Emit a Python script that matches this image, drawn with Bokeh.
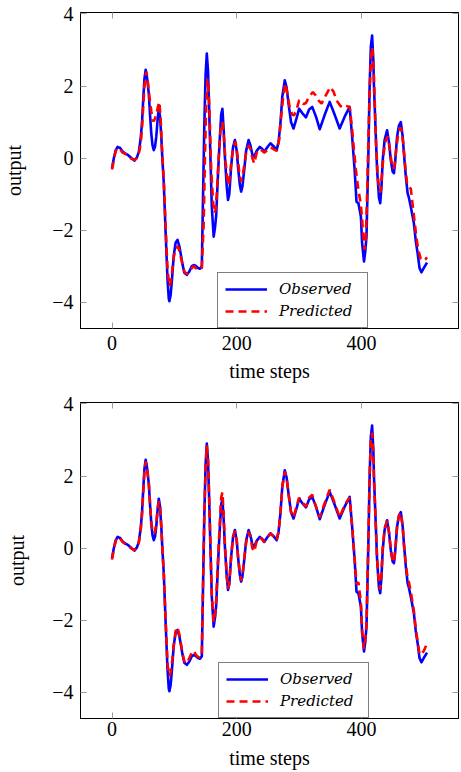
from bokeh.plotting import figure
from bokeh.layouts import column
from bokeh.models import Legend, LegendItem, LinearAxis, FixedTicker, CustomJSTickFormatter, Range1d
from bokeh.embed import file_html
from bokeh.resources import INLINE

x_ticks = [0, 200, 400]
y_ticks = [-4, -2, 0, 2, 4]
series_names = ["Observed", "Predicted"]
x_label = "time steps"
y_label = "output"

obs_t = [0, 3, 6, 9, 13, 17, 21, 26, 31, 36,
         40, 43, 46, 48, 50, 52, 54, 56, 59, 61,
         63, 65, 67, 69, 71, 73, 75, 77, 79, 81,
         83, 86, 89, 91, 92, 94, 96, 99, 102, 105,
         108, 110, 113, 116, 120, 124, 128, 131, 134, 138,
         141, 144, 146, 148, 150, 152, 154, 156, 158, 160,
         163, 165, 167, 170, 173, 175, 177, 179, 181, 184,
         186, 188, 191, 194, 197, 200, 202, 205, 207, 209,
         212, 215, 219, 222, 225, 228, 232, 237, 241, 244,
         249, 254, 259, 264, 267, 270, 273, 277, 280, 283,
         287, 291, 295, 300, 305, 311, 316, 321, 327, 333,
         341, 349, 357, 365, 373, 381, 385, 389, 392, 395,
         399, 401, 404, 406, 408, 411, 413, 415, 417, 419,
         420, 423, 425, 428, 430, 432, 434, 437, 441, 444,
         447, 450, 452, 454, 457, 460, 463, 466, 468, 471,
         474, 476, 479, 484, 487, 490, 493, 496, 500, 505]
obs_y = [-0.28, 0.0, 0.22, 0.31, 0.28, 0.18, 0.13, 0.08, 0.0, -0.07,
         0.02, 0.17, 0.55, 0.96, 1.6, 2.2, 2.45, 2.25, 1.79, 1.2,
         0.68, 0.35, 0.22, 0.32, 0.6, 1.05, 1.37, 1.15, 0.6, -0.1,
         -0.7, -2.08, -3.37, -3.9, -3.97, -3.8, -3.4, -2.7, -2.35, -2.27,
         -2.45, -2.64, -2.95, -3.18, -3.24, -3.15, -3.0, -2.97, -2.99, -3.05,
         -3.07, -3.0, -1.0, 0.9, 2.3, 2.9, 2.4, 1.2, -0.1, -1.35,
         -2.18, -1.95, -1.6, -0.42, 0.6, 1.2, 1.37, 0.8, 0.04, -0.8,
         -1.16, -1.0, -0.24, 0.3, 0.5, 0.2, -0.24, -0.75, -0.93, -0.8,
         -0.33, 0.2, 0.5, 0.35, 0.1, 0.04, 0.2, 0.31, 0.25, 0.17,
         0.3, 0.41, 0.33, 0.22, 0.45, 0.96, 1.7, 2.16, 1.95, 1.51,
         1.0, 0.82, 1.05, 1.37, 1.25, 1.13, 1.35, 1.42, 1.15, 0.8,
         1.2, 1.56, 1.2, 0.82, 1.15, 1.42, 0.59, -0.33, -1.21, -1.25,
         -1.62, -2.36, -2.87, -2.6, -2.18, 0.13, 1.97, 3.1, 3.4, 2.7,
         1.97, 0.6, -0.33, -1.1, -1.25, -0.8, -0.06, 0.5, 0.77, 0.45,
         -0.06, -0.38, -0.42, -0.1, 0.59, 0.9, 1.0, 0.6, 0.13, -0.5,
         -0.98, -1.1, -1.35, -1.81, -2.3, -2.64, -3.05, -3.17, -3.05, -2.9]

pred1_t = [0, 3, 6, 9, 13, 17, 21, 26, 31, 36,
           40, 43, 46, 48, 50, 52, 55, 57, 60, 63,
           65, 67, 69, 72, 74, 76, 78, 80, 83, 86,
           89, 92, 94, 96, 99, 102, 106, 109, 113, 116,
           120, 124, 128, 131, 134, 138, 141, 144, 147, 149,
           151, 153, 155, 157, 159, 162, 164, 166, 168, 171,
           174, 177, 179, 182, 185, 187, 189, 192, 195, 198,
           201, 204, 207, 209, 212, 215, 219, 222, 225, 228,
           232, 237, 241, 244, 249, 254, 259, 264, 268, 271,
           275, 278, 281, 285, 289, 292, 296, 300, 303, 307,
           311, 316, 322, 326, 331, 336, 343, 350, 355, 360,
           366, 370, 375, 381, 385, 388, 391, 394, 396, 399,
           401, 403, 405, 407, 409, 411, 413, 415, 417, 419,
           421, 423, 426, 429, 431, 433, 436, 439, 442, 445,
           448, 451, 453, 456, 459, 462, 464, 467, 470, 473,
           476, 479, 482, 485, 488, 491, 495, 499, 503, 505]
pred1_y = [-0.32, -0.05, 0.2, 0.28, 0.25, 0.15, 0.12, 0.06, -0.02, -0.05,
           0.0, 0.12, 0.4, 0.8, 1.4, 2.0, 2.4, 2.2, 1.7, 1.3,
           1.05, 1.02, 1.1, 1.28, 1.45, 1.56, 1.1, 0.3, -0.6, -1.9,
           -3.1, -3.56, -3.45, -3.2, -2.75, -2.5, -2.45, -2.65, -2.95, -3.15,
           -3.22, -3.15, -3.05, -3.0, -3.05, -3.08, -3.1, -3.05, -1.8, 0.0,
           1.5, 2.2, 1.9, 0.9, -0.3, -1.2, -1.53, -1.45, -1.0, 0.0,
           0.8, 1.0, 0.7, -0.1, -0.6, -0.75, -0.5, 0.0, 0.35, 0.45,
           0.1, -0.4, -0.65, -0.55, -0.2, 0.15, 0.35, 0.25, 0.0, -0.15,
           0.15, 0.25, 0.2, 0.15, 0.22, 0.3, 0.25, 0.2, 0.5, 1.1,
           1.8, 2.07, 1.8, 1.4, 1.2, 1.19, 1.35, 1.6, 1.6, 1.5,
           1.53, 1.7, 1.83, 1.75, 1.6, 1.51, 1.75, 1.97, 1.85, 1.6,
           1.45, 1.4, 1.45, 1.42, 0.8, 0.2, -0.33, -0.75, -0.98, -1.3,
           -1.71, -2.2, -2.54, -2.2, -1.0, 0.5, 1.8, 2.7, 3.08, 2.7,
           1.7, 0.5, -0.5, -0.95, -0.9, -0.4, 0.2, 0.5, 0.6, 0.3,
           -0.1, -0.3, -0.2, 0.3, 0.7, 0.85, 0.8, 0.4, -0.2, -0.7,
           -0.8, -0.85, -1.3, -1.75, -2.2, -2.55, -2.8, -2.85, -2.8, -2.75]

pred2_t = obs_t
pred2_y = [-0.32, -0.02, 0.2, 0.3, 0.27, 0.17, 0.12, 0.07, -0.01, -0.06,
           0.02, 0.15, 0.5, 0.9, 1.5, 2.1, 2.4, 2.25, 1.8, 1.25,
           0.72, 0.45, 0.4, 0.45, 0.7, 1.05, 1.3, 1.15, 0.6, -0.1,
           -0.7, -2.0, -3.2, -3.5, -3.55, -3.45, -3.2, -2.7, -2.3, -2.2,
           -2.4, -2.6, -2.92, -3.15, -3.2, -3.05, -2.9, -2.85, -2.95, -3.02,
           -3.05, -2.95, -1.0, 0.9, 2.2, 2.85, 2.45, 1.3, -0.05, -1.3,
           -2.05, -1.9, -1.45, -0.3, 0.75, 1.4, 1.55, 0.95, 0.1, -0.75,
           -1.12, -0.98, -0.24, 0.3, 0.48, 0.2, -0.22, -0.7, -0.9, -0.78,
           -0.3, 0.15, 0.45, 0.3, 0.0, -0.1, 0.2, 0.3, 0.24, 0.17,
           0.3, 0.4, 0.33, 0.22, 0.45, 0.96, 1.7, 2.12, 1.95, 1.5,
           1.0, 0.85, 1.1, 1.4, 1.27, 1.15, 1.4, 1.48, 1.15, 0.85,
           1.25, 1.62, 1.25, 0.85, 1.2, 1.4, 0.6, -0.3, -1.0, -0.95,
           -1.5, -2.3, -2.8, -2.55, -2.1, 0.2, 2.0, 3.0, 3.2, 2.6,
           1.9, 0.6, -0.3, -1.0, -1.15, -0.7, 0.0, 0.55, 0.75, 0.45,
           -0.05, -0.35, -0.4, -0.08, 0.6, 0.9, 0.98, 0.6, 0.1, -0.45,
           -0.85, -0.95, -1.2, -1.75, -2.25, -2.6, -2.95, -2.95, -2.85, -2.65]

SERIF = "Liberation Serif"
TICK_COLOR = "#9a9a9a"


def style_axis(ax, labels=True):
    ax.axis_line_color = "black"
    ax.axis_line_width = 1
    ax.major_tick_in = 6
    ax.major_tick_out = 0
    ax.major_tick_line_color = TICK_COLOR
    ax.major_tick_line_width = 1
    ax.minor_tick_line_color = None
    if labels:
        ax.major_label_text_font = SERIF
        ax.major_label_text_font_size = "20px"
        ax.major_label_text_color = "black"
        ax.axis_label_text_font = SERIF
        ax.axis_label_text_font_size = "20px"
        ax.axis_label_text_font_style = "normal"
        ax.axis_label_text_color = "black"
    else:
        ax.formatter = CustomJSTickFormatter(code="return '';")
        ax.major_label_text_font_size = "0px"
        ax.major_label_standoff = 0
        ax.axis_label = None


def make(pred_t, pred_y, left, right, top, bottom, height, leg_x, xstand, xlabstand, ylabstand):
    p = figure(width=461, height=height, output_backend="svg", toolbar_location=None,
               x_range=Range1d(-50.5, 555.5), y_range=Range1d(-4.73, 4.04),
               min_border_left=left, min_border_right=right,
               min_border_top=top, min_border_bottom=bottom)
    p.grid.visible = False
    p.outline_line_color = "black"
    p.background_fill_color = "white"
    p.border_fill_color = "white"

    xt = FixedTicker(ticks=x_ticks, minor_ticks=[])
    yt = FixedTicker(ticks=y_ticks, minor_ticks=[])
    fmt = CustomJSTickFormatter(code="return tick < 0 ? '\u2212' + Math.abs(tick) : String(tick);")

    p.xaxis.ticker = xt
    p.yaxis.ticker = yt
    p.yaxis.formatter = fmt
    for ax in p.xaxis:
        style_axis(ax)
        ax.axis_label = x_label
        ax.major_label_standoff = xstand
        ax.axis_label_standoff = xlabstand
    for ax in p.yaxis:
        style_axis(ax)
        ax.axis_label = y_label
        ax.major_label_standoff = 7
        ax.axis_label_standoff = ylabstand

    top_ax = LinearAxis(ticker=FixedTicker(ticks=x_ticks, minor_ticks=[]))
    style_axis(top_ax, labels=False)
    p.add_layout(top_ax, "above")
    right_ax = LinearAxis(ticker=FixedTicker(ticks=y_ticks, minor_ticks=[]))
    style_axis(right_ax, labels=False)
    p.add_layout(right_ax, "right")

    r1 = p.line(obs_t, obs_y, line_color="#0000ff", line_width=2.6, line_join="round")
    r2 = p.line(pred_t, pred_y, line_color="#ff0000", line_width=2.6, line_dash="8 5")

    legend = Legend(items=[LegendItem(label=series_names[0], renderers=[r1]),
                           LegendItem(label=series_names[1], renderers=[r2])],
                    location=(leg_x, 0), padding=7, spacing=4, margin=0,
                    glyph_width=42, glyph_height=18, label_standoff=12, label_width=81,
                    label_text_font="DejaVu Serif", label_text_font_style="italic",
                    label_text_font_size="15px", label_text_color="black",
                    border_line_color="black", border_line_width=1,
                    background_fill_color="white", background_fill_alpha=1)
    p.add_layout(legend)
    return p


p1 = make(pred1_t, pred1_y, left=77, right=1, top=12, bottom=65, height=393, leg_x=137,
          xstand=7, xlabstand=7, ylabstand=24)
p2 = make(pred2_t, pred2_y, left=73, right=3, top=9, bottom=54, height=379, leg_x=138,
          xstand=3, xlabstand=8, ylabstand=21)

layout = column(p1, p2)
open("out.html", "w").write(file_html(layout, INLINE))
